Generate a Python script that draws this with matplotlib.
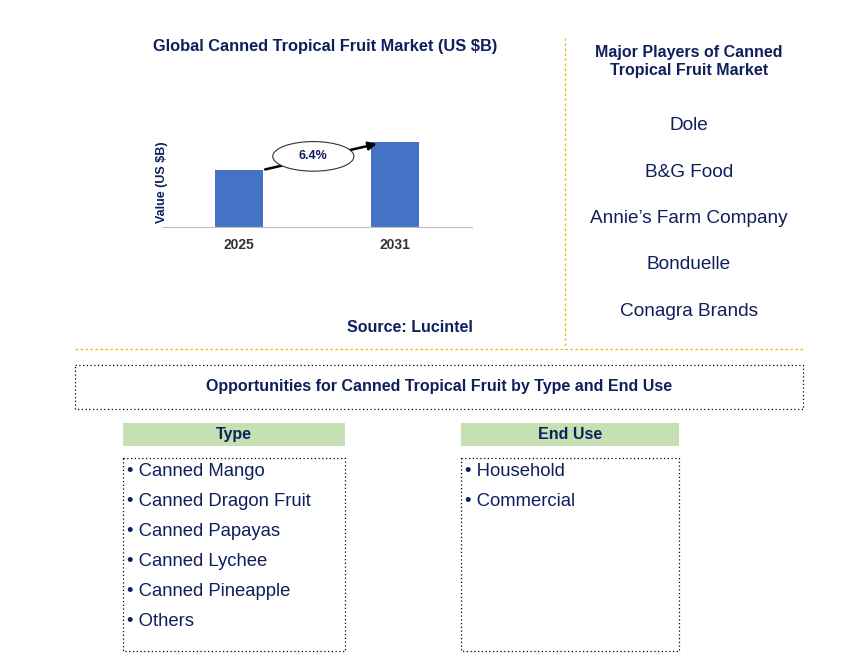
import matplotlib
matplotlib.use("Agg")
import matplotlib.pyplot as plt
from matplotlib.patches import Rectangle, Ellipse, FancyArrowPatch

years = ["2025", "2031"]
values = [1.0, 1.5]
cagr = "6.4%"
players = ["Dole", "B&G Food", "Annie\u2019s Farm Company", "Bonduelle", "Conagra Brands"]
types = ["Canned Mango", "Canned Dragon Fruit", "Canned Papayas", "Canned Lychee", "Canned Pineapple", "Others"]
end_uses = ["Household", "Commercial"]

plt.rcParams["font.family"] = "Liberation Sans"
W, H = 868, 672
navy = "#0f1f5c"
fig = plt.figure(figsize=(W/100, H/100), dpi=100)
bg = fig.add_axes([0, 0, 1, 1])
bg.set_xlim(0, W); bg.set_ylim(H, 0); bg.axis("off")

# chart
ax = fig.add_axes([162/W, 1-227/H, (472-162)/W, 127/H])
ax.bar([0, 1], values, width=0.31, color="#4472c4")
ax.set_xlim(-0.494, 1.493); ax.set_ylim(0, 2.23)
ax.set_xticks([0, 1]); ax.set_xticklabels(years, fontsize=10, fontweight="bold", color="#333333")
ax.set_yticks([])
for s in ["top", "right", "left"]:
    ax.spines[s].set_visible(False)
ax.spines["bottom"].set_color("#bfbfbf")
ax.tick_params(axis="x", length=0, pad=8)
ax.set_ylabel("Value (US $B)", fontsize=9, fontweight="bold", color=navy, labelpad=-2)
ax.yaxis.set_label_coords(0.02, 0.35)
ax.add_patch(FancyArrowPatch((0.15, values[0]*1.0), (0.9, values[1]*0.98), arrowstyle="-|>", mutation_scale=12, color="black", lw=1.8))
ax.add_patch(Ellipse((0.476, 1.24), 0.52, 0.52, facecolor="white", edgecolor="#333333", lw=0.8, zorder=5))
ax.text(0.476, 1.24, cagr, ha="center", va="center", fontsize=9, fontweight="bold", color=navy, zorder=6)

bg.text(325, 47, "Global Canned Tropical Fruit Market (US $B)", ha="center", va="center", fontsize=11.8, fontweight="bold", color=navy)
bg.text(410, 328, "Source: Lucintel", ha="center", va="center", fontsize=11.5, fontweight="bold", color=navy)

gold = "#e8b800"
bg.plot([565, 565], [38, 348], ls=(0, (2, 2)), color=gold, lw=0.9)
bg.plot([75, 803], [349, 349], ls=(0, (2, 2)), color=gold, lw=0.9)

bg.text(689, 62, "Major Players of Canned\nTropical Fruit Market", ha="center", va="center", fontsize=11.5, fontweight="bold", color=navy, linespacing=1.25)
for i, p in enumerate(players):
    bg.text(689, 126 + i*46.3, p, ha="center", va="center", fontsize=13.7, color=navy)

bg.add_patch(Rectangle((75, 365), 728, 44, fill=False, ls=(0, (1, 2)), lw=0.9, ec="black"))
bg.text(439, 387, "Opportunities for Canned Tropical Fruit by Type and End Use", ha="center", va="center", fontsize=11.5, fontweight="bold", color=navy)

green = "#c5e0b3"
for x0, x1, title, items in [(123, 345, "Type", types), (461, 679, "End Use", end_uses)]:
    bg.add_patch(Rectangle((x0, 423), x1-x0, 23, fc=green, ec="none"))
    bg.text((x0+x1)/2, 434.5, title, ha="center", va="center", fontsize=11.5, fontweight="bold", color=navy)
    bg.add_patch(Rectangle((x0, 458), x1-x0, 193, fill=False, ls=(0, (1, 2)), lw=0.9, ec="black"))
    for i, it in enumerate(items):
        bg.text(x0+4, 472 + i*30, "\u2022 " + it, ha="left", va="center", fontsize=13.3, color=navy)

fig.savefig("out.png", dpi=100)
